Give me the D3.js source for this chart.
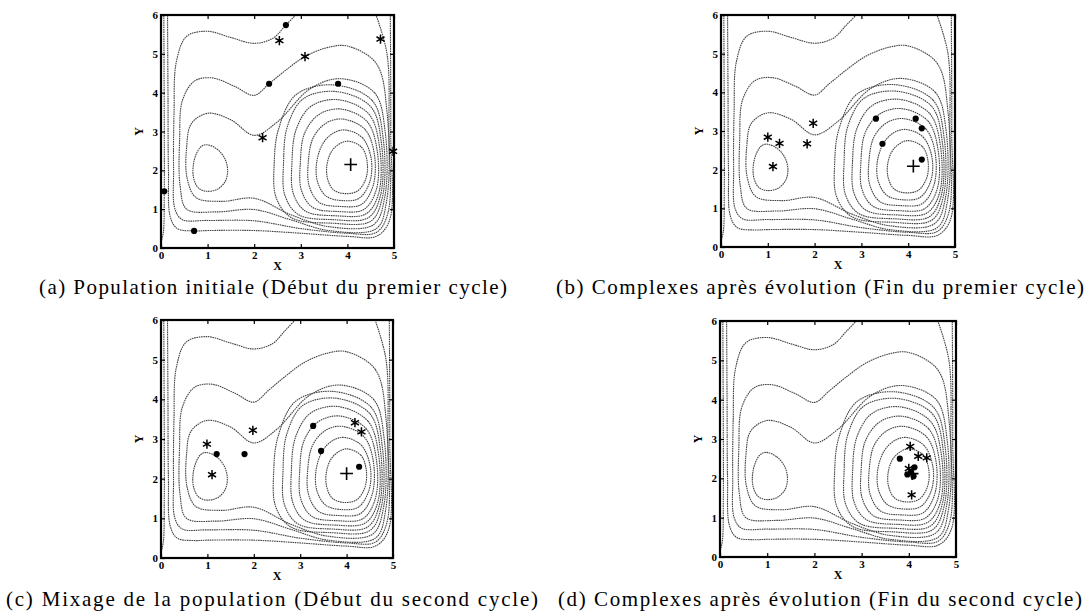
<!DOCTYPE html>
<html>
<head>
<meta charset="utf-8">
<script src="https://cdn.jsdelivr.net/npm/d3@7"></script>
<style>
  body { margin: 0; background: #fff; }
  .tick text { font-family: "Liberation Serif", serif; font-weight: bold; font-size: 11px; }
</style>
</head>
<body>
<svg id="chart" width="1090" height="613"></svg>
<script>
// axis ticks
var xTicks = [0, 1, 2, 3, 4, 5];
var yTicks = [0, 1, 2, 3, 4, 5, 6];

var captions = [
    "(a) Population initiale (Début du premier cycle)",
    "(b) Complexes après évolution (Fin du premier cycle)",
    "(c) Mixage de la population (Début du second cycle)",
    "(d) Complexes après évolution (Fin du second cycle)"
];

// contour lines (x, y)
var loopLeft = [[0.97,2.66],[1.2,2.55],[1.37,2.3],[1.43,2.0],[1.38,1.72],[1.22,1.52],[0.98,1.46],[0.8,1.55],[0.7,1.8],[0.69,2.1],[0.75,2.4],[0.85,2.6]];

var loopsRight = [
    [[3.98,2.75],[4.3,2.6],[4.42,2.25],[4.4,1.8],[4.22,1.47],[3.95,1.4],[3.7,1.5],[3.57,1.8],[3.57,2.2],[3.7,2.55]],
    [[3.95,3.04],[4.32,2.84],[4.51,2.3],[4.48,1.7],[4.25,1.28],[3.9,1.22],[3.55,1.33],[3.36,1.7],[3.34,2.2],[3.48,2.7],[3.7,2.96]],
    [[3.9,3.32],[4.38,3.05],[4.58,2.4],[4.55,1.6],[4.3,1.12],[3.85,1.07],[3.4,1.17],[3.18,1.6],[3.16,2.2],[3.27,2.85],[3.55,3.22]],
    [[3.85,3.58],[4.42,3.26],[4.64,2.5],[4.62,1.5],[4.35,0.99],[3.8,0.94],[3.25,1.05],[3.01,1.5],[2.99,2.2],[3.08,2.95],[3.38,3.43]],
    [[3.8,3.82],[4.46,3.45],[4.69,2.6],[4.67,1.4],[4.4,0.88],[3.75,0.83],[3.1,0.95],[2.84,1.4],[2.81,2.2],[2.9,3.05],[3.22,3.65]],
    [[3.75,4.03],[4.5,3.64],[4.73,2.7],[4.71,1.35],[4.45,0.78],[3.7,0.73],[2.95,0.86],[2.66,1.35],[2.63,2.2],[2.71,3.12],[3.05,3.84]],
    [[3.7,4.2],[4.53,3.8],[4.77,2.8],[4.75,1.3],[4.5,0.69],[3.65,0.64],[2.8,0.78],[2.47,1.3],[2.43,2.2],[2.52,3.05],[2.9,3.95]]
];

var loopsBoth = [
    [[3.85,4.36],[4.58,4.0],[4.81,3.0],[4.8,1.3],[4.56,0.6],[3.6,0.55],[2.8,0.85],[2.0,1.28],[1.3,1.2],[0.75,1.3],[0.56,1.8],[0.55,2.6],[0.65,3.2],[1.0,3.47],[1.5,3.3],[2.0,2.9],[2.5,3.25],[3.2,4.1]],
    [[4.0,5.2],[4.62,4.75],[4.85,3.5],[4.84,1.2],[4.62,0.5],[3.6,0.45],[2.8,0.72],[2.0,0.99],[1.2,0.93],[0.55,1.0],[0.41,1.6],[0.4,2.8],[0.46,3.8],[0.72,4.3],[1.1,4.38],[1.6,4.15],[2.0,3.93],[2.32,4.23],[2.7,4.6],[3.09,4.93],[3.6,5.17]]
];

var openLines = [
    [[2.93,6.05],[2.68,5.74],[2.4,5.4],[2.0,5.27],[1.5,5.42],[1.0,5.58],[0.55,5.45],[0.33,4.8],[0.28,3.5],[0.27,2.0],[0.3,1.0],[0.46,0.73],[1.0,0.71],[2.0,0.7],[3.0,0.5],[4.0,0.38],[4.62,0.4],[4.87,0.9],[4.89,3.0],[4.85,5.0],[4.6,6.05]],
    [[0.14,6.05],[0.15,4.0],[0.16,2.0],[0.2,0.8],[0.35,0.5],[0.71,0.44],[1.0,0.45],[2.0,0.45],[3.0,0.38],[4.0,0.3],[4.62,0.3],[4.9,0.7],[4.93,3.0],[4.92,6.05]],
    [[0.06,6.05],[0.07,3.0],[0.07,1.46],[0.05,0.4],[0.0,0.15]]
];

// markers for each panel
var dotsA  = [[2.68,5.74],[2.32,4.23],[3.8,4.23],[0.07,1.46],[0.71,0.44]];
var starsA = [[2.54,5.34],[3.09,4.93],[4.71,5.38],[2.18,2.84],[4.98,2.49]];
var plusA  = [[4.07,2.15]];

var dotsB  = [[3.31,3.32],[3.45,2.67],[4.16,3.32],[4.29,3.07],[4.29,2.26]];
var starsB = [[1.0,2.84],[1.25,2.68],[1.11,2.08],[1.84,2.67],[1.97,3.2]];
var plusB  = [[4.11,2.09]];

var dotsC  = [[1.2,2.62],[1.8,2.62],[3.28,3.33],[3.45,2.7],[4.27,2.3]];
var starsC = [[0.99,2.87],[1.1,2.1],[1.98,3.22],[4.18,3.41],[4.32,3.18]];
var plusC  = [[4.0,2.13]];

var dotsD  = [[3.81,2.5],[4.12,2.28],[3.97,2.1],[4.1,2.05],[4.05,2.15]];
var starsD = [[4.03,2.81],[4.2,2.56],[4.38,2.52],[4.06,1.58],[4.0,2.25]];
var plusD  = [[4.07,2.12]];

var panels = [
    { box: [161, 15, 394, 248], dots: dotsA, stars: starsA, plus: plusA, cx: 273, cy: 294, cw: 468 },
    { box: [721, 15, 955, 247], dots: dotsB, stars: starsB, plus: plusB, cx: 820, cy: 294, cw: 528 },
    { box: [161, 320, 393, 558], dots: dotsC, stars: starsC, plus: plusC, cx: 272, cy: 606, cw: 532 },
    { box: [720, 321, 956, 557], dots: dotsD, stars: starsD, plus: plusD, cx: 820, cy: 606, cw: 524 }
];

var svg = d3.select("#chart");

panels.forEach(function(p, i) {
    var x = d3.scaleLinear().domain([0, 5]).range([p.box[0], p.box[2]]);
    var y = d3.scaleLinear().domain([0, 6]).range([p.box[3], p.box[1]]);
    var g = svg.append("g");

    g.append("clipPath").attr("id", "clip" + i)
        .append("rect")
        .attr("x", p.box[0]).attr("y", p.box[1])
        .attr("width", p.box[2] - p.box[0]).attr("height", p.box[3] - p.box[1]);

    var closed = d3.line().x(function(d) { return x(d[0]); }).y(function(d) { return y(d[1]); })
        .curve(d3.curveCatmullRomClosed.alpha(0.5));
    var open = d3.line().x(function(d) { return x(d[0]); }).y(function(d) { return y(d[1]); })
        .curve(d3.curveCatmullRom.alpha(0.5));

    var cg = g.append("g").attr("clip-path", "url(#clip" + i + ")")
        .attr("fill", "none").attr("stroke", "#444")
        .attr("stroke-width", 1.1).attr("stroke-dasharray", "1.6,0.7");

    cg.selectAll("path.closed")
        .data([loopLeft].concat(loopsRight, loopsBoth))
        .enter().append("path").attr("class", "closed").attr("d", closed);
    cg.selectAll("path.open")
        .data(openLines)
        .enter().append("path").attr("class", "open").attr("d", open);

    // axes, ticks inside
    g.append("g").attr("transform", "translate(0," + p.box[3] + ")")
        .call(d3.axisBottom(x).tickValues(xTicks).tickSize(-4).tickPadding(3).tickFormat(d3.format("d")));
    g.append("g").attr("transform", "translate(" + p.box[0] + ",0)")
        .call(d3.axisLeft(y).tickValues(yTicks).tickSize(-4).tickPadding(3).tickFormat(d3.format("d")));
    g.append("g").attr("transform", "translate(0," + p.box[1] + ")")
        .call(d3.axisTop(x).tickValues(xTicks).tickSize(-4).tickFormat(""));
    g.append("g").attr("transform", "translate(" + p.box[2] + ",0)")
        .call(d3.axisRight(y).tickValues(yTicks).tickSize(-4).tickFormat(""));
    g.selectAll(".domain").remove();
    g.selectAll(".tick line").attr("stroke", "#000").attr("stroke-width", 1.2);

    g.append("rect")
        .attr("x", p.box[0]).attr("y", p.box[1])
        .attr("width", p.box[2] - p.box[0]).attr("height", p.box[3] - p.box[1])
        .attr("fill", "none").attr("stroke", "#000").attr("stroke-width", 2.2);

    // markers
    g.selectAll("circle.dot").data(p.dots).enter().append("circle")
        .attr("class", "dot")
        .attr("cx", function(d) { return x(d[0]); })
        .attr("cy", function(d) { return y(d[1]); })
        .attr("r", 3.1).attr("fill", "#000");
    g.selectAll("path.star").data(p.stars).enter().append("path")
        .attr("class", "star")
        .attr("transform", function(d) { return "translate(" + x(d[0]) + "," + y(d[1]) + ")"; })
        .attr("d", d3.symbol(d3.symbolAsterisk, 60))
        .attr("fill", "none").attr("stroke", "#000").attr("stroke-width", 1.5);
    g.selectAll("path.plus").data(p.plus).enter().append("path")
        .attr("class", "plus")
        .attr("transform", function(d) { return "translate(" + x(d[0]) + "," + y(d[1]) + ")"; })
        .attr("d", d3.symbol(d3.symbolPlus, 55))
        .attr("fill", "none").attr("stroke", "#000").attr("stroke-width", 1.6);

    // axis labels
    g.append("text")
        .attr("x", (p.box[0] + p.box[2]) / 2).attr("y", p.box[3] + 22)
        .attr("text-anchor", "middle")
        .style("font-family", "Liberation Serif, serif").style("font-weight", "bold").style("font-size", "12px")
        .text("X");
    g.append("text")
        .attr("transform", "translate(" + (p.box[0] - 18) + "," + ((p.box[1] + p.box[3]) / 2) + ") rotate(-90)")
        .attr("text-anchor", "middle")
        .style("font-family", "Liberation Serif, serif").style("font-weight", "bold").style("font-size", "12px")
        .text("Y");

    // caption
    g.append("text")
        .attr("x", p.cx - p.cw / 2).attr("y", p.cy)
        .attr("textLength", p.cw).attr("lengthAdjust", "spacing")
        .style("font-family", "Liberation Serif, serif").style("font-size", "21px")
        .text(captions[i]);
});
</script>
</body>
</html>
